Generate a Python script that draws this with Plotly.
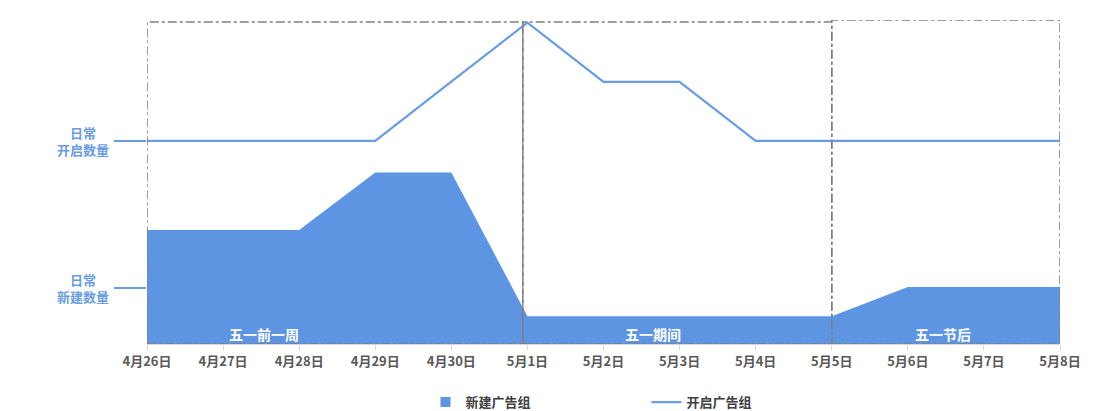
import plotly.graph_objects as go

# dates on the x axis
dates = ['4月26日', '4月27日', '4月28日', '4月29日', '4月30日', '5月1日', '5月2日',
         '5月3日', '5月4日', '5月5日', '5月6日', '5月7日', '5月8日']

# series values (relative scale)
new_groups = [35.2, 35.2, 35.2, 52.9, 52.9, 8.6, 8.6, 8.6, 8.6, 8.6, 17.6, 17.6, 17.6]
open_groups = [62.7, 62.7, 62.7, 62.7, 81.0, 99.2, 80.9, 80.9, 62.7, 62.7, 62.7, 62.7, 62.7]

# y "ticks": daily levels
level_vals = [62.7, 17.2]
level_text = ['日常<br>开启数量', '日常<br>新建数量']

# holiday periods
period_names = ['五一前一周', '五一期间', '五一节后']
period_label_x = [1.54, 6.65, 10.46]
period_bounds = [(0, 4.94, 99.4), (4.94, 9, 99.4), (9, 12, 100)]

FILL = '#5d95e3'
LINE = '#6a9ce6'
FONT = 'Noto Sans CJK SC'

x = list(range(len(dates)))

fig = go.Figure()
fig.add_trace(go.Scatter(
    x=x, y=new_groups, name='新建广告组', showlegend=False,
    mode='none', fill='tozeroy', fillcolor=FILL,
))
# legend-only entry so the area gets a small square swatch
fig.add_trace(go.Scatter(
    x=[None], y=[None], name='<b>新建广告组</b>', mode='markers',
    marker=dict(symbol='square', size=10, color=FILL),
))
fig.add_trace(go.Scatter(
    x=x, y=open_groups, name='<b>开启广告组</b>',
    mode='lines', line=dict(color=LINE, width=2.2),
))

# dash-dot boxes around each period
for x0, x1, top in period_bounds:
    fig.add_shape(type='rect', x0=x0, x1=x1, y0=0, y1=top, xref='x', yref='y',
                  line=dict(color='#7f7f7f', width=1.5, dash='dashdot'), layer='above')

for name, px in zip(period_names, period_label_x):
    fig.add_annotation(x=px, y=3.1, text='<b>' + name + '</b>', showarrow=False,
                       font=dict(color='white', size=14, family=FONT))

# y labels, centred text to the left of the tick lines
for val, txt in zip(level_vals, level_text):
    fig.add_annotation(x=0, xref='paper', y=val, yref='y', xanchor='right', xshift=-36,
                       yanchor='middle', align='center', showarrow=False,
                       text='<b>' + txt + '</b>',
                       font=dict(color=LINE, size=13, family=FONT))

# page body has an 8px margin, so the figure is a bit smaller than the window
fig.update_layout(
    width=1091, height=403,
    margin=dict(l=139, r=39, t=12, b=67),
    plot_bgcolor='white', paper_bgcolor='white',
    font=dict(family=FONT, color='#595959'),
    showlegend=True,
    legend=dict(orientation='h', x=0.305, xanchor='left',
                yref='container', y=0.022, yanchor='middle',
                font=dict(size=13, color='#404040'),
                entrywidth=176, entrywidthmode='pixels'),
    xaxis=dict(
        range=[0, 12], tickvals=x, ticktext=['<b>' + d + '</b>' for d in dates],
        tickfont=dict(size=13, color='#595959'),
        showgrid=False, zeroline=False,
        showline=True, linecolor='#d9d9d9', linewidth=1,
        ticks='outside', ticklen=5, tickcolor='#d9d9d9',
    ),
    yaxis=dict(
        range=[0, 100], tickvals=level_vals, showticklabels=False,
        ticks='outside', ticklen=32, tickcolor=LINE, tickwidth=1.5,
        showgrid=False, zeroline=False, showline=False,
    ),
)

fig.write_html('out.html')
